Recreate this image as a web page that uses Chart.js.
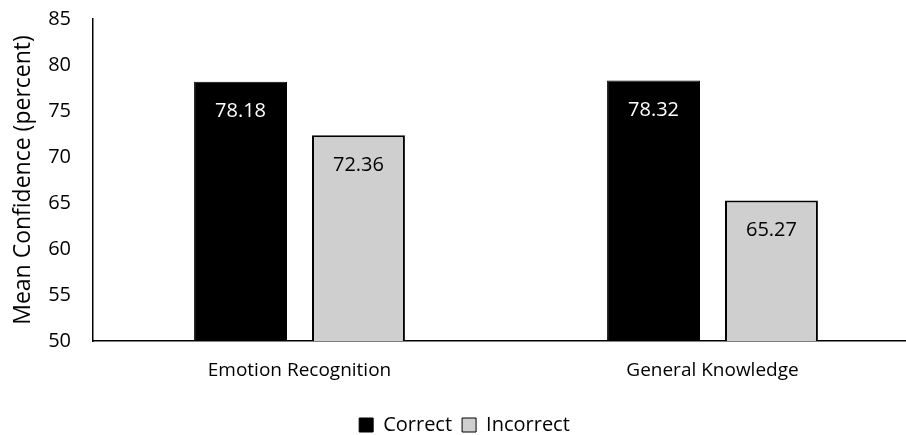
<!DOCTYPE html>
<html><head><meta charset="utf-8">
<script src="https://cdn.jsdelivr.net/npm/chart.js@4"></script>
<style>html,body{margin:0;padding:0;overflow:hidden;background:#fff}#wrap{width:922px;height:435px}</style>
</head><body><div id="wrap"><canvas id="c" width="922" height="435"></canvas></div>
<script>
const categories = ["Emotion Recognition", "General Knowledge"];
const correctValues = [78.18, 78.32];
const incorrectValues = [72.36, 65.27];
const yTicks = [50, 55, 60, 65, 70, 75, 80, 85];
const FONT = "'Open Sans', Lato, sans-serif";

const labelPlugin = {
  id: 'barLabels',
  afterDatasetsDraw(chart) {
    const ctx = chart.ctx;
    chart.data.datasets.forEach((ds, i) => {
      const meta = chart.getDatasetMeta(i);
      meta.data.forEach((bar, j) => {
        ctx.save();
        ctx.font = "20px " + FONT;
        ctx.fillStyle = i === 0 ? '#ffffff' : '#000000';
        ctx.textAlign = 'center';
        ctx.textBaseline = 'middle';
        ctx.fillText(ds.data[j].toFixed(2), bar.x, bar.y + 30);
        ctx.restore();
      });
    });
  }
};

new Chart(document.getElementById('c'), {
  type: 'bar',
  data: {
    labels: categories,
    datasets: [
      { label: 'Correct', data: correctValues, backgroundColor: '#000000', borderColor: '#000000', borderWidth: 1 },
      { label: 'Incorrect', data: incorrectValues, backgroundColor: '#d0cfd0', borderColor: '#000000', borderWidth: 2 }
    ]
  },
  options: {
    responsive: false,
    animation: false,
    layout: { padding: { left: 10, right: 3, top: 19, bottom: -10 } },
    categoryPercentage: 0.571,
    barPercentage: 0.788,
    plugins: {
      tooltip: { enabled: false },
      legend: {
        position: 'bottom',
        labels: {
          font: { family: FONT, size: 20 }, color: '#000',
          boxWidth: 14, boxHeight: 14, padding: 10,
          generateLabels(chart) {
            return chart.data.datasets.map((d, i) => ({
              text: d.label, fillStyle: d.backgroundColor, strokeStyle: '#000', lineWidth: 1, datasetIndex: i, fontColor: '#000'
            }));
          }
        }
      }
    },
    scales: {
      x: {
        grid: { display: false, drawTicks: false },
        border: { color: '#000', width: 1.5 },
        ticks: { font: { family: FONT, size: 19 }, color: '#000', padding: 18 },
        afterFit(s) { s.height = 64; }
      },
      y: {
        min: 50, max: 85,
        afterBuildTicks(s) { s.ticks = yTicks.map(v => ({ value: v })); },
        grid: { display: false, drawTicks: false },
        border: { color: '#000', width: 1.5 },
        ticks: { font: { family: FONT, size: 20 }, color: '#000', padding: 22 },
        title: { display: true, text: 'Mean Confidence (percent)', font: { family: FONT, size: 23 }, color: '#000', padding: 0 },
        afterFit(s) { s.width = 83; s.paddingTop = 0; s.paddingBottom = 0; }
      }
    }
  },
  plugins: [labelPlugin]
});
</script></body></html>
